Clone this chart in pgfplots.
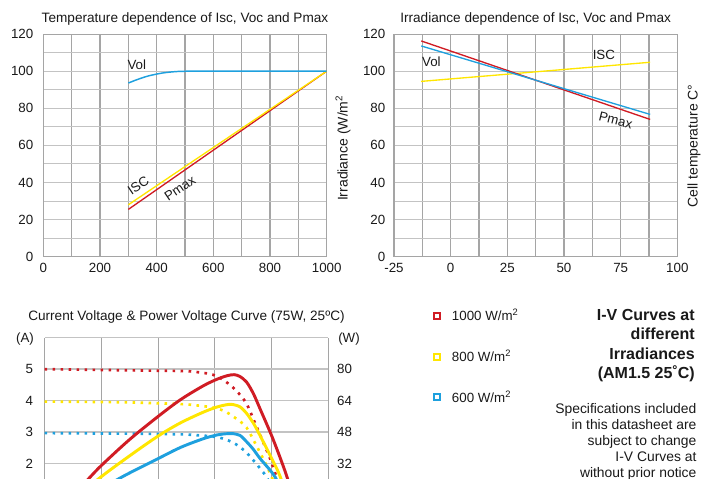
\documentclass[border=0pt]{standalone}
\usepackage{pgfplots}
\pgfplotsset{compat=1.18}
\usepackage{fontspec}
\setmainfont{Liberation Sans}
\definecolor{cred}{RGB}{208,28,36}
\definecolor{cyel}{RGB}{255,230,0}
\definecolor{cblue}{RGB}{30,160,222}
\definecolor{gridv}{RGB}{165,165,165}
\definecolor{gridh}{RGB}{195,195,195}
\definecolor{txt}{RGB}{25,25,25}
\tikzset{lab/.style={font=\fontsize{10}{12}\selectfont, text=txt, inner sep=0pt}}
\pgfplotsset{
  base/.style={
    scale only axis,
    clip mode=individual,
    font=\fontsize{10}{12}\selectfont,
    /pgf/number format/assume math mode=true,
    /pgf/number format/1000 sep={},
    major tick length=0pt, minor tick length=0pt,
    tick style={draw=none},
    ticklabel style={text=txt},
    axis line style={draw=gridv, line width=0.8pt},
    major x grid style={draw=gridv, line width=0.8pt},
    minor x grid style={draw=gridv, line width=0.8pt},
    major y grid style={draw=gridh, line width=0.8pt},
    minor y grid style={draw=gridh, line width=0.8pt},
    xticklabel style={yshift=-1.5pt},
    title style={at={(0.5,1)}, anchor=base, yshift=2.7pt, text=txt, font=\fontsize{10.2}{12}\selectfont},
  },
}
\begin{document}
\begin{tikzpicture}
\path[use as bounding box] (0pt,0pt) rectangle (531pt,359.25pt);
% ---------------- top left
\begin{axis}[base, at={(32.5pt,166.7pt)}, anchor=south west, width=212.5pt, height=167pt,
  xmin=0, xmax=1000, ymin=0, ymax=120, xtick={0,200,...,1000}, ytick={0,20,...,120},
  minor tick num=1, grid=both, yticklabel style={xshift=-4pt},
  title={Temperature dependence of Isc, Voc and Pmax}]
\addplot[cred, line width=1pt] coordinates {(300,25.5) (1000,100)};
\addplot[cyel, line width=1pt] coordinates {(300,28) (1000,100)};
\addplot[cblue, line width=1.1pt, smooth] coordinates {(300,93.6) (330,95.4) (370,97.4) (420,99.0) (470,99.8) (520,100) (600,100) (700,100) (800,100) (900,100) (1000,100)};
\node[lab] at (axis cs:330,103.5) {Vol};
\node[lab, rotate=34] at (axis cs:335,38.5) {ISC};
\node[lab, rotate=34] at (axis cs:482,36.9) {Pmax};
\node[lab, rotate=90, font=\fontsize{10.5}{12}\selectfont] at (axis description cs:1.0575,0.488) {Irradiance (W/m\textsuperscript{2}};
\end{axis}
% ---------------- top right
\begin{axis}[base, at={(295.5pt,166.7pt)}, anchor=south west, width=212.5pt, height=167pt,
  xmin=-25, xmax=100, ymin=0, ymax=120, xtick={-25,0,...,100}, ytick={0,20,...,120},
  minor tick num=1, grid=both, yticklabel style={xshift=-3pt},
  title={Irradiance dependence of Isc, Voc and Pmax}]
\addplot[cyel, line width=1pt] coordinates {(-13,94.5) (88,104.8)};
\addplot[cred, line width=1pt] coordinates {(-13,116.3) (88,74)};
\addplot[cblue, line width=1pt] coordinates {(-13,113.6) (88,76.7)};
\node[lab] at (axis cs:-8.5,105) {Vol};
\node[lab] at (axis cs:67.6,109) {ISC};
\node[lab, rotate=-14] at (axis cs:72.8,73.6) {Pmax};
\node[lab, rotate=90, font=\fontsize{10.5}{12}\selectfont] at (axis description cs:1.059,0.497) {Cell temperature C°};
\end{axis}
% ---------------- bottom: current (A)
\begin{axis}[base, at={(33.4pt,-0.3pt)}, anchor=south west, width=212.9pt, height=106.3pt,
  xmin=0, xmax=25, ymin=1.5, ymax=6, xtick={0,5,...,25}, ytick={2,3,4,5,6},
  yticklabels={2,3,4,5,}, xticklabels={}, grid=major, axis line style={draw=none},
  major y grid style={draw=gridh, line width=1pt},
  yticklabel style={xshift=-5pt},
  title={Current Voltage \& Power Voltage Curve (75W, 25ºC)}, title style={yshift=3.8pt}]
\addplot[cred, line width=2pt, dash pattern=on 2pt off 4pt, smooth] coordinates {
 (0,5.0) (4,4.98) (8,4.96) (12.2,4.94) (13.1,4.92) (14.4,4.86) (15.1,4.79) (15.7,4.67)
 (16.3,4.51) (16.85,4.33) (17.35,4.13) (17.75,3.93) (18.1,3.67) (18.5,3.32) (19.0,2.90)
 (19.4,2.56) (19.8,2.22) (20.1,1.92) (20.4,1.6) (21,0.8)};
\addplot[cyel, line width=2pt, dash pattern=on 2pt off 4pt, smooth] coordinates {
 (0,3.97) (4,3.96) (8,3.94) (12.1,3.89) (13.1,3.86) (13.9,3.83) (14.7,3.79) (15.4,3.73)
 (16.0,3.64) (16.6,3.50) (17.3,3.32) (17.8,3.14) (18.1,2.96) (18.4,2.75) (19.1,2.27)
 (19.6,1.9) (20.0,1.58) (20.6,1.0)};
\addplot[cblue, line width=2pt, dash pattern=on 2pt off 4pt, smooth] coordinates {
 (0,2.97) (4,2.96) (8,2.95) (12.1,2.93) (13.1,2.91) (14.6,2.87) (15.7,2.8) (16.6,2.67)
 (17.2,2.53) (17.8,2.35) (18.2,2.18) (18.7,1.98) (19.1,1.79) (19.56,1.58) (20.2,1.1)};
\end{axis}
% ---------------- bottom: power (W)
\begin{axis}[base, at={(33.4pt,-0.3pt)}, anchor=south west, width=212.9pt, height=106.3pt,
  xmin=0, xmax=25, ymin=24, ymax=96, axis x line=none, axis y line*=right,
  ytick={32,48,64,80}, grid=none, axis line style={draw=none},
  yticklabel style={xshift=3pt},
  legend style={draw=none, fill=none, at={(axis description cs:1.3685,1.221)}, anchor=north west,
    inner sep=0pt, row sep=16.5pt, column sep=6pt, font=\fontsize{10}{12}\selectfont, nodes={text=txt}},
  legend cell align=left,
  legend image code/.code={\draw[#1, solid, line width=1.6pt, fill=white] (0pt,-2.2pt) rectangle (4.4pt,2.2pt);}]
\addplot[cred, line width=2.2pt, smooth] coordinates {
 (0,0) (2,12.6) (3.86,24.2) (5.03,31.2) (7.5,44.3) (10.05,56.2) (12,64.6) (14,71.6)
 (15.2,74.9) (16.1,76.7) (16.7,77.2) (17.2,76.3) (17.8,73.4) (18.4,67.5)
 (18.97,60) (20.1,44.8) (21.3,26.2) (22.0,12) (22.4,0)};
\addlegendentry{1000 W/m\textsuperscript{2}}
\addplot[cyel, line width=2.2pt, smooth] coordinates {
 (0,0) (2.4,12.2) (4.74,24.2) (7.5,36) (10.05,46.2) (12,52.8) (14,58.2)
 (15.2,60.8) (16.0,61.9) (16.5,62.1) (17.2,60.9) (17.8,57.5) (18.4,52.5) (18.97,46.4)
 (20.0,34.7) (20.7,26.2) (21.4,14) (21.8,0)};
\addlegendentry{800 W/m\textsuperscript{2}}
\addplot[cblue, line width=2.2pt, smooth] coordinates {
 (0,0) (3,11.5) (6.5,24.2) (10.05,34.7) (12,40.3) (14,44.7) (15.2,46.6)
 (16.0,47.2) (16.5,47.3) (17.2,46.4) (17.8,43.1) (18.4,39.2) (18.97,34.7) (20.3,25.3)
 (21.0,15) (21.4,0)};
\addlegendentry{600 W/m\textsuperscript{2}}
\end{axis}
% ---------------- unit labels
\node[lab] at (18.75pt,105.3pt) {(A)};
\node[lab] at (261.75pt,105.3pt) {(W)};
% ---------------- right text block
\begin{scope}[every node/.style={font=\bfseries\fontsize{12}{14}\selectfont, text=txt, inner sep=0pt, anchor=base east}]
\node at (521.25pt,118.7pt) {I-V Curves at};
\node at (521.25pt,104.25pt) {different};
\node at (521.25pt,89.8pt) {Irradiances};
\node at (521.25pt,75.3pt) {(AM1.5 25˚C)};
\end{scope}
\begin{scope}[every node/.style={font=\fontsize{10.4}{12}\selectfont, text=txt, inner sep=0pt, anchor=base east}]
\node at (522.5pt,49.3pt) {Specifications included};
\node at (522.5pt,37.3pt) {in this datasheet are};
\node at (522.5pt,25.0pt) {subject to change};
\node at (522.5pt,13.0pt) {I-V Curves at};
\node at (522.5pt,1.3pt) {without prior notice};
\end{scope}
\end{tikzpicture}
\end{document}
